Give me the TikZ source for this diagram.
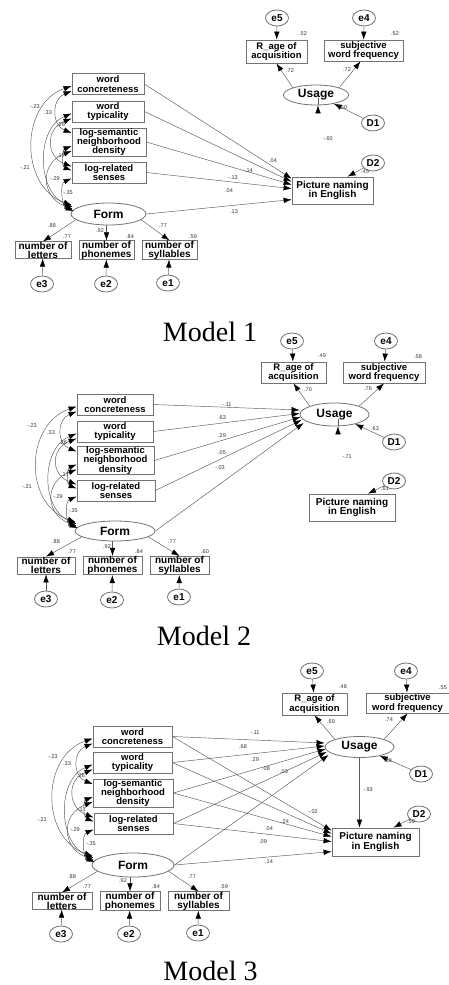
\documentclass[tikz,border=0pt]{standalone}
\usepackage{fontspec}
\setmainfont{Liberation Sans}
\newfontfamily\titlefont{Liberation Serif}
\usetikzlibrary{arrows.meta,shapes.geometric,calc}
\tikzset{
  obs/.style={draw=black!55, line width=0.8pt, fill=white, inner sep=0pt, align=center, font=\fontsize{9.5}{9.3}\selectfont\bfseries},
  ind/.style={obs, font=\fontsize{10}{9}\selectfont\bfseries},
  lat/.style={ellipse, draw=black!55, line width=0.8pt, fill=white, inner sep=0pt, font=\fontsize{12}{12}\selectfont\bfseries},
  err/.style={ellipse, draw=black!55, line width=0.8pt, fill=white, inner sep=0pt, minimum width=23pt, minimum height=16pt, font=\fontsize{10}{10}\selectfont\bfseries},
  coef/.style={inner sep=0pt, font=\fontsize{5.5}{5.5}\selectfont, text=black!80},
  reg/.style={draw=black!65, line width=0.45pt, -{Latex[length=8pt,width=5.5pt,color=black]}},
  cov/.style={draw=black!65, line width=0.45pt, {Latex[length=8pt,width=5.5pt,color=black]}-{Latex[length=8pt,width=5.5pt,color=black]}},
  ttl/.style={inner sep=0pt, font=\titlefont\fontsize{28}{28}\selectfont},
}
\newcommand\cf[3]{\node[coef] (#1) at (#2) {#3};}
\newcommand\covarc[6]{\draw[cov] ($(#1.west)+(#2)$) .. controls +(-#5,#6) and +(-#5,-#6) .. ($(#3.west)+(#4)$);}
\newcommand\corrs[1]{%
  \covarc{#1-conc}{0,2}{#1-form}{1,-9}{52}{18}
  \covarc{#1-typ}{0,2}{#1-form}{2,-7}{36}{15}
  \covarc{#1-conc}{0,7}{#1-sem}{0,-9}{20}{8}
  \covarc{#1-typ}{0,7}{#1-rel}{0,-6}{26}{10}
  \covarc{#1-sem}{0,4}{#1-rel}{0,-2}{10}{4}
  \covarc{#1-sem}{0,9}{#1-form}{2,-5}{32}{12}
  \covarc{#1-rel}{0,6}{#1-form}{3,-3}{12}{5}
}
\begin{document}
\begin{tikzpicture}[x=1pt,y=-1pt]
\fill[white] (0,0) rectangle (449,985);
\useasboundingbox (0,0) rectangle (449,985);

%%%%%%%%%%%%%%%% MODEL 1
\node[err] (A-e5) at (277,18) {e5};
\node[err] (A-e4) at (364,18) {e4};
\node[obs, minimum width=61pt, minimum height=23pt] (A-age) at (276.5,51.5) {R\_age of\\acquisition};
\node[obs, minimum width=79pt, minimum height=21pt] (A-subj) at (363.5,50.5) {subjective\\word frequency};
\node[lat, minimum width=65pt, minimum height=20pt] (A-use) at (316,95) {Usage};
\node[err] (A-d1) at (373,123) {D1};
\node[obs, minimum width=72pt, minimum height=21pt] (A-conc) at (108,84) {word\\concreteness};
\node[obs, minimum width=72pt, minimum height=21pt] (A-typ) at (108,111.5) {word\\typicality};
\node[obs, minimum width=74pt, minimum height=28pt] (A-sem) at (109,142) {log-semantic\\neighborhood\\density};
\node[obs, minimum width=74pt, minimum height=21pt] (A-rel) at (109,172.5) {log-related\\senses};
\node[lat, minimum width=75pt, minimum height=22pt] (A-form) at (108.5,214) {Form};
\node[obs, minimum width=81pt, minimum height=27pt, font=\fontsize{10}{9.5}\selectfont\bfseries] (A-pic) at (332.5,190.5) {Picture naming\\in English};
\node[err] (A-d2) at (373,163) {D2};
\node[ind, minimum width=56pt, minimum height=16pt] (A-let) at (43,250) {number of\\letters};
\node[ind, minimum width=55pt, minimum height=16pt] (A-pho) at (106.5,250) {number of\\phonemes};
\node[ind, minimum width=55pt, minimum height=16pt] (A-syl) at (169.5,250) {number of\\syllables};
\node[err] (A-e3) at (42,284) {e3};
\node[err] (A-e2) at (106,284) {e2};
\node[err] (A-e1) at (168,283) {e1};

\draw[reg] (A-e5) -- (A-age);
\draw[reg] (A-e4) -- (A-subj);
\draw[reg] (A-use.north west) -- (A-age.south);
\draw[reg] (A-use.north east) -- ($(A-subj.south)+(-3,0)$);
\draw[reg] (A-d1) -- (A-use);
\draw[reg] ($(A-use.south)+(2,0)$) -- ($(A-use.south)+(2,0)$ |- A-pic.north);
\draw[reg] (A-d2) -- ($(A-pic.north)+(15,0)$);
\draw[reg] (A-conc.east) -- ($(A-pic.north west)+(0,2)$);
\draw[reg] (A-typ.east) -- ($(A-pic.north west)+(0,5)$);
\draw[reg] (A-sem.east) -- ($(A-pic.north west)+(0,8)$);
\draw[reg] (A-rel.east) -- ($(A-pic.north west)+(0,12)$);
\draw[reg] (A-form.east) -- ($(A-pic.north west)+(0,23)$);
\draw[reg] (A-form.190) -- (A-let.north);
\draw[reg] (A-form.south -| A-pho.north) -- (A-pho.north);
\draw[reg] (A-form.350) -- (A-syl.north);
\draw[reg] (A-e3) -- (A-let);
\draw[reg] (A-e2) -- (A-pho);
\draw[reg] (A-e1) -- (A-syl);
\corrs{A}

\cf{A-k1}{303,34}{.52}
\cf{A-k2}{395,34}{.52}
\cf{A-k3}{290,71}{.72}
\cf{A-k4}{347,70}{.72}
\cf{A-k5}{343,108}{.00}
\cf{A-k6}{328,139}{-.60}
\cf{A-k7}{365,172}{.45}
\cf{A-k8}{273,161}{.04}
\cf{A-k9}{248,171}{-.14}
\cf{A-k10}{233,178}{-.13}
\cf{A-k11}{229,191}{.04}
\cf{A-k12}{234,212}{.13}
\cf{A-k13}{52,226}{.88}
\cf{A-k14}{67,237}{.77}
\cf{A-k15}{100,231}{.92}
\cf{A-k16}{130,237}{.84}
\cf{A-k17}{163,226}{.77}
\cf{A-k18}{193,237}{.59}
\cf{A-k19}{35,107}{-.23}
\cf{A-k20}{48,113}{.33}
\cf{A-k21}{61,125}{.26}
\cf{A-k22}{61,156}{.17}
\cf{A-k23}{25,168}{-.21}
\cf{A-k24}{55,179}{-.29}
\cf{A-k25}{68,193}{-.35}
\node[ttl] (T1) at (210,332) {Model 1};

%%%%%%%%%%%%%%%% MODEL 2
\node[err] (B-e5) at (292,341) {e5};
\node[err] (B-e4) at (386,341) {e4};
\node[obs, minimum width=65pt, minimum height=21pt] (B-age) at (293.5,372.5) {R\_age of\\acquisition};
\node[obs, minimum width=82pt, minimum height=21pt] (B-subj) at (384,372.5) {subjective\\word frequency};
\node[lat, minimum width=69pt, minimum height=23pt] (B-use) at (334.5,414.5) {Usage};
\node[err] (B-d1) at (394,442) {D1};
\node[obs, minimum width=76pt, minimum height=21pt] (B-conc) at (115,404.5) {word\\concreteness};
\node[obs, minimum width=76pt, minimum height=21pt] (B-typ) at (115,431.5) {word\\typicality};
\node[obs, minimum width=77pt, minimum height=27pt] (B-sem) at (115.5,460.5) {log-semantic\\neighborhood\\density};
\node[obs, minimum width=78pt, minimum height=21pt] (B-rel) at (116,490.5) {log-related\\senses};
\node[lat, minimum width=80pt, minimum height=20pt] (B-form) at (115,531) {Form};
\node[obs, minimum width=86pt, minimum height=27pt, font=\fontsize{10}{9.5}\selectfont\bfseries] (B-pic) at (352,507.5) {Picture naming\\in English};
\node[err] (B-d2) at (394,481) {D2};
\node[ind, minimum width=58pt, minimum height=17pt] (B-let) at (46,565.5) {number of\\letters};
\node[ind, minimum width=59pt, minimum height=17pt] (B-pho) at (112.5,565.5) {number of\\phonemes};
\node[ind, minimum width=59pt, minimum height=17pt] (B-syl) at (179.5,565.5) {number of\\syllables};
\node[err] (B-e3) at (46,599) {e3};
\node[err] (B-e2) at (112,600) {e2};
\node[err] (B-e1) at (179,597) {e1};

\draw[reg] (B-e5) -- (B-age);
\draw[reg] (B-e4) -- (B-subj);
\draw[reg] (B-use.north west) -- (B-age.south);
\draw[reg] (B-use.north east) -- (B-subj.south);
\draw[reg] (B-d1) -- (B-use);
\draw[reg] ($(B-use.south)+(3.5,0)$) -- ($(B-use.south)+(3.5,0)$ |- B-pic.north);
\draw[reg] (B-d2) -- ($(B-pic.north)+(16,0)$);
\draw[reg] (B-conc.east) -- ($(B-use.west)+(0,-4.5)$);
\draw[reg] (B-typ.east) -- ($(B-use.west)+(0,-1)$);
\draw[reg] (B-sem.east) -- ($(B-use.west)+(1,2.5)$);
\draw[reg] (B-rel.east) -- ($(B-use.west)+(2,5.5)$);
\draw[reg] (B-form.east) -- ($(B-use.west)+(4,8.5)$);
\draw[reg] (B-form.190) -- (B-let.north);
\draw[reg] (B-form.south -| B-pho.north) -- (B-pho.north);
\draw[reg] (B-form.350) -- (B-syl.north);
\draw[reg] (B-e3) -- (B-let);
\draw[reg] (B-e2) -- (B-pho);
\draw[reg] (B-e1) -- (B-syl);
\corrs{B}

\cf{B-k1}{322,356}{.49}
\cf{B-k2}{418,357}{.58}
\cf{B-k3}{308,390}{.70}
\cf{B-k4}{368,389}{.76}
\cf{B-k5}{375,429}{.63}
\cf{B-k6}{347,457}{-.71}
\cf{B-k7}{385,489}{.61}
\cf{B-k8}{227,405}{-.11}
\cf{B-k9}{222,418}{.63}
\cf{B-k10}{222,436}{.29}
\cf{B-k11}{222,453}{.05}
\cf{B-k12}{220,468}{-.03}
\cf{B-k13}{56,542}{.88}
\cf{B-k14}{72,552}{.77}
\cf{B-k15}{107,547}{.92}
\cf{B-k16}{139,552}{.84}
\cf{B-k17}{172,542}{.77}
\cf{B-k18}{205,552}{.60}
\cf{B-k19}{32,426}{-.23}
\cf{B-k20}{51,433}{.33}
\cf{B-k21}{63,443}{.26}
\cf{B-k22}{65,475}{.17}
\cf{B-k23}{27,487}{-.21}
\cf{B-k24}{58,497}{-.29}
\cf{B-k25}{73,511}{-.35}
\node[ttl] (T2) at (204,636) {Model 2};

%%%%%%%%%%%%%%%% MODEL 3
\node[err] (C-e5) at (312,671) {e5};
\node[err] (C-e4) at (406,671) {e4};
\node[obs, minimum width=65pt, minimum height=22pt] (C-age) at (314.5,704) {R\_age of\\acquisition};
\node[obs, minimum width=83pt, minimum height=20pt] (C-subj) at (407.5,703) {subjective\\word frequency};
\node[lat, minimum width=69pt, minimum height=21pt] (C-use) at (359.5,747) {Usage};
\node[err] (C-d1) at (421,774) {D1};
\node[obs, minimum width=79pt, minimum height=21pt] (C-conc) at (132.5,736.5) {word\\concreteness};
\node[obs, minimum width=79pt, minimum height=21pt] (C-typ) at (132.5,762.5) {word\\typicality};
\node[obs, minimum width=80pt, minimum height=28pt] (C-sem) at (133,793) {log-semantic\\neighborhood\\density};
\node[obs, minimum width=79pt, minimum height=21pt] (C-rel) at (133.5,823.5) {log-related\\senses};
\node[lat, minimum width=82pt, minimum height=24pt] (C-form) at (133,865) {Form};
\node[obs, minimum width=87pt, minimum height=28pt, font=\fontsize{10}{9.5}\selectfont\bfseries] (C-pic) at (375.5,842) {Picture naming\\in English};
\node[err] (C-d2) at (419,814) {D2};
\node[ind, minimum width=60pt, minimum height=16pt] (C-let) at (62,901) {number of\\letters};
\node[ind, minimum width=60pt, minimum height=16pt] (C-pho) at (130,901) {number of\\phonemes};
\node[ind, minimum width=61pt, minimum height=16pt] (C-syl) at (198.5,901) {number of\\syllables};
\node[err] (C-e3) at (61,934) {e3};
\node[err] (C-e2) at (129,934) {e2};
\node[err] (C-e1) at (198,933) {e1};

\draw[reg] (C-e5) -- (C-age);
\draw[reg] (C-e4) -- (C-subj);
\draw[reg] (C-use.north west) -- (C-age.south);
\draw[reg] (C-use.north east) -- (C-subj.south);
\draw[reg] (C-d1) -- (C-use);
\draw[reg] (C-use.south) -- (C-use.south |- C-pic.north);
\draw[reg] (C-d2) -- ($(C-pic.north)+(18,0)$);
\draw[reg] (C-conc.east) -- ($(C-use.west)+(0,-4)$);
\draw[reg] (C-typ.east) -- ($(C-use.west)+(0,-1)$);
\draw[reg] (C-sem.east) -- ($(C-use.west)+(1,2)$);
\draw[reg] (C-rel.east) -- ($(C-use.west)+(2,5)$);
\draw[reg] (C-form.east) -- ($(C-use.west)+(4,8)$);
\draw[reg] (C-conc.east) -- ($(C-pic.north west)+(0,3)$);
\draw[reg] (C-typ.east) -- ($(C-pic.north west)+(0,6)$);
\draw[reg] (C-sem.east) -- ($(C-pic.north west)+(0,9)$);
\draw[reg] (C-rel.east) -- ($(C-pic.north west)+(0,14)$);
\draw[reg] (C-form.east) -- ($(C-pic.north west)+(0,24)$);
\draw[reg] (C-form.190) -- (C-let.north);
\draw[reg] (C-form.south -| C-pho.north) -- (C-pho.north);
\draw[reg] (C-form.350) -- (C-syl.north);
\draw[reg] (C-e3) -- (C-let);
\draw[reg] (C-e2) -- (C-pho);
\draw[reg] (C-e1) -- (C-syl);
\corrs{C}

\cf{C-k1}{343,687}{.48}
\cf{C-k2}{443,688}{.55}
\cf{C-k3}{331,722}{.69}
\cf{C-k4}{389,720}{.74}
\cf{C-k5}{388,761}{.68}
\cf{C-k6}{368,790}{-.93}
\cf{C-k7}{411,822}{.59}
\cf{C-k8}{255,733}{-.11}
\cf{C-k9}{243,747}{.68}
\cf{C-k10}{255,760}{.29}
\cf{C-k11}{266,769}{.08}
\cf{C-k12}{284,772}{.03}
\cf{C-k13}{313,812}{-.02}
\cf{C-k14}{285,822}{.24}
\cf{C-k15}{269,829}{.04}
\cf{C-k16}{263,842}{.09}
\cf{C-k17}{269,862}{.14}
\cf{C-k18}{72,877}{.88}
\cf{C-k19}{87,887}{.77}
\cf{C-k20}{123,881}{.92}
\cf{C-k21}{156,887}{.84}
\cf{C-k22}{192,877}{.77}
\cf{C-k23}{224,887}{.59}
\cf{C-k24}{53,757}{-.23}
\cf{C-k25}{67,764}{.33}
\cf{C-k26}{81,776}{.26}
\cf{C-k27}{82,810}{.17}
\cf{C-k28}{42,820}{-.21}
\cf{C-k29}{75,830}{-.29}
\cf{C-k30}{91,844}{-.35}
\node[ttl] (T3) at (210.5,971) {Model 3};
\end{tikzpicture}
\end{document}
